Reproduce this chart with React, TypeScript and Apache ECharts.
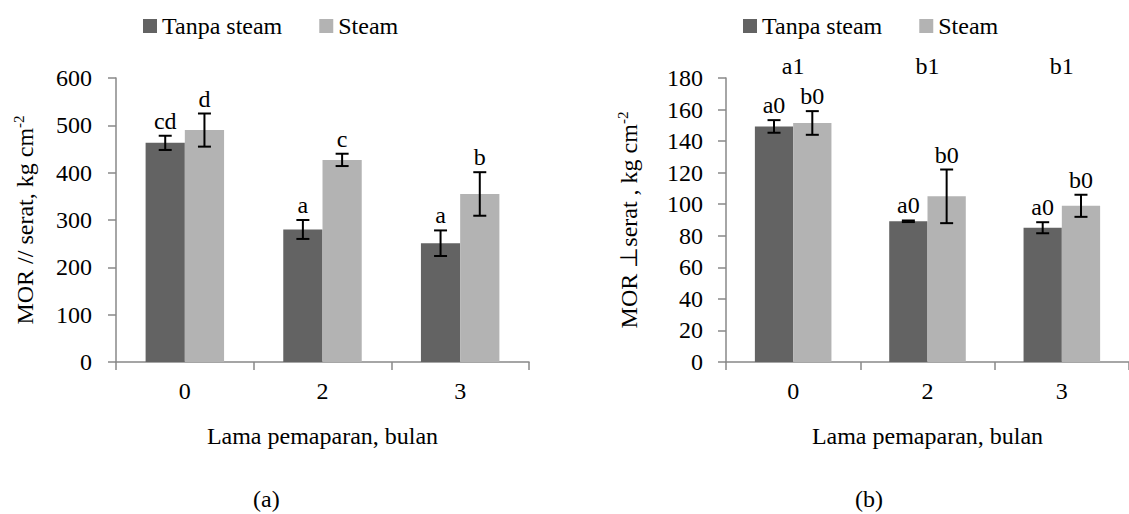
import React, { useEffect, useRef } from "react";
import * as echarts from "echarts";

const FONT = "Liberation Serif";
const FS = 24;

const categories = ["0", "2", "3"];
const seriesNames = ["Tanpa steam", "Steam"];

// (a) MOR // serat
const parTanpa = [463, 280, 251];
const parTanpaErr = [15, 20, 27];
const parSteam = [490, 427, 355];
const parSteamErr = [35, 13, 46];
const parTanpaLabels = ["cd", "a", "a"];
const parSteamLabels = ["d", "c", "b"];

// (b) MOR ⊥ serat
const perpTanpa = [149.3, 89.2, 85.1];
const perpTanpaErr = [4, 0.5, 3.5];
const perpSteam = [151.5, 105, 99];
const perpSteamErr = [7.5, 17, 7];
const perpTanpaLabels = ["a0", "a0", "a0"];
const perpSteamLabels = ["b0", "b0", "b0"];
const perpGroupLabels = ["a1", "b1", "b1"];

const DARK = "#636363";
const LIGHT = "#b3b3b3";
const AXIS = "#888888";
const BAR_FRAC = 0.285;

function errData(vals: number[], errs: number[]) {
  return vals.map((v, i) => [i, v, errs[i]]);
}

function errRender(side: number, labels: string[]) {
  return (params: any, api: any) => {
    const idx = api.value(0);
    const v = api.value(1);
    const e = api.value(2);
    const center = api.coord([idx, v])[0];
    const band = api.size([1, 0])[0];
    const bw = band * BAR_FRAC;
    const cx = center + (side * bw) / 2;
    const top = api.coord([idx, v + e])[1];
    const bot = api.coord([idx, v - e])[1];
    const ls = { stroke: "#000", lineWidth: 2 };
    const cap = 6.5;
    return {
      type: "group",
      children: [
        { type: "line", shape: { x1: cx, y1: top, x2: cx, y2: bot }, style: ls },
        { type: "line", shape: { x1: cx - cap, y1: top, x2: cx + cap, y2: top }, style: ls },
        { type: "line", shape: { x1: cx - cap, y1: bot, x2: cx + cap, y2: bot }, style: ls },
        {
          type: "text",
          x: cx,
          y: top - 3,
          style: {
            text: labels[params.dataIndex],
            fill: "#000",
            fontSize: FS,
            fontFamily: FONT,
            align: "center",
            verticalAlign: "bottom",
          },
        },
      ],
    };
  };
}

function yAxisCfg(gridIndex: number, max: number, interval: number, nameText: string, nameGap: number, margin: number) {
  return {
    type: "value",
    gridIndex,
    min: 0,
    max,
    interval,
    name: `{m|${nameText}}{s|-2}`,
    nameLocation: "middle",
    nameGap,
    nameTextStyle: {
      color: "#000",
      fontFamily: FONT,
      fontSize: FS,
      rich: {
        m: { fontFamily: FONT, fontSize: FS, color: "#000", verticalAlign: "bottom", lineHeight: 26 },
        s: { fontFamily: FONT, fontSize: 15, color: "#000", verticalAlign: "top", lineHeight: 26 },
      },
    },
    axisLine: { show: true, lineStyle: { color: AXIS, width: 1.5 } },
    axisTick: { show: true, length: 8, lineStyle: { color: AXIS, width: 1.5 } },
    axisLabel: { color: "#000", fontFamily: FONT, fontSize: FS, margin },
    splitLine: { show: false },
  };
}

function xAxisCfg(gridIndex: number) {
  return {
    type: "category",
    gridIndex,
    data: categories,
    name: "Lama pemaparan, bulan",
    nameLocation: "middle",
    nameGap: 62,
    nameTextStyle: { color: "#000", fontFamily: FONT, fontSize: FS },
    axisLine: { show: true, lineStyle: { color: AXIS, width: 1.5 } },
    axisTick: { show: true, length: 8, alignWithLabel: false, lineStyle: { color: AXIS, width: 1.5 } },
    axisLabel: { color: "#000", fontFamily: FONT, fontSize: FS, margin: 17 },
    splitLine: { show: false },
  };
}

function legendCfg(left: number) {
  return {
    left,
    top: 9,
    icon: "rect",
    itemWidth: 14,
    itemHeight: 14,
    itemGap: 37,
    data: seriesNames,
    textStyle: { color: "#000", fontFamily: FONT, fontSize: FS, padding: [0, 0, 0, 0] },
  };
}

function barSeries(name: string, data: number[], color: string, idx: number) {
  return {
    type: "bar",
    name,
    xAxisIndex: idx,
    yAxisIndex: idx,
    data,
    barWidth: "28.5%",
    barGap: "0%",
    itemStyle: { color },
  };
}

function errSeries(id: string, vals: number[], errs: number[], side: number, labels: string[], idx: number) {
  return {
    type: "custom",
    name: id,
    xAxisIndex: idx,
    yAxisIndex: idx,
    clip: false,
    silent: true,
    z: 5,
    encode: { x: 0, y: 1 },
    data: errData(vals, errs),
    renderItem: errRender(side, labels),
  };
}

export default function App() {
  const ref = useRef<HTMLDivElement>(null);
  useEffect(() => {
    if (!ref.current) return;
    const chart = echarts.init(ref.current, undefined, { renderer: "svg" });
    chart.setOption({
      animation: false,
      backgroundColor: "#ffffff",
      textStyle: { fontFamily: FONT },
      legend: [legendCfg(138), legendCfg(738)],
      grid: [
        { left: 116, top: 78, width: 413, height: 284, containLabel: false },
        { left: 726, top: 78, width: 415, height: 284, containLabel: false },
      ],
      xAxis: [xAxisCfg(0), xAxisCfg(1)],
      yAxis: [
        yAxisCfg(0, 600, 100, "MOR // serat, kg cm", 79, 24),
        yAxisCfg(1, 180, 20, "MOR \u22A5serat , kg cm", 85, 23),
      ],
      series: [
        barSeries(seriesNames[0], parTanpa, DARK, 0),
        barSeries(seriesNames[1], parSteam, LIGHT, 0),
        barSeries(seriesNames[0], perpTanpa, DARK, 1),
        barSeries(seriesNames[1], perpSteam, LIGHT, 1),
        errSeries("errA1", parTanpa, parTanpaErr, -1, parTanpaLabels, 0),
        errSeries("errA2", parSteam, parSteamErr, 1, parSteamLabels, 0),
        errSeries("errB1", perpTanpa, perpTanpaErr, -1, perpTanpaLabels, 1),
        errSeries("errB2", perpSteam, perpSteamErr, 1, perpSteamLabels, 1),
        {
          type: "custom",
          name: "groupLabels",
          xAxisIndex: 1,
          yAxisIndex: 1,
          clip: false,
          silent: true,
          encode: { x: 0, y: 1 },
          data: perpGroupLabels.map((_, i) => [i, 180]),
          renderItem: (params: any, api: any) => {
            const p = api.coord([api.value(0), api.value(1)]);
            return {
              type: "text",
              x: p[0],
              y: p[1] - 12,
              style: {
                text: perpGroupLabels[params.dataIndex],
                fill: "#000",
                fontSize: FS,
                fontFamily: FONT,
                align: "center",
                verticalAlign: "middle",
              },
            };
          },
        },
      ],
      graphic: [
        {
          type: "text",
          left: 253,
          top: 487,
          style: { text: "(a)", fill: "#000", fontSize: FS, fontFamily: FONT },
        },
        {
          type: "text",
          left: 855,
          top: 487,
          style: { text: "(b)", fill: "#000", fontSize: FS, fontFamily: FONT },
        },
      ],
    });
    return () => chart.dispose();
  }, []);
  return (
    <div
      ref={ref}
      style={{ position: "fixed", left: 0, top: 0, width: 1129, height: 514, background: "#fff" }}
    />
  );
}
